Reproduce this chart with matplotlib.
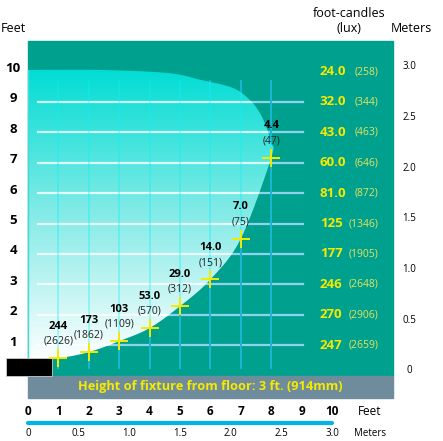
import numpy as np
import matplotlib.pyplot as plt
from matplotlib.patches import Rectangle, Polygon
from matplotlib.colors import LinearSegmentedColormap

plt.rcParams['font.family'] = ['Open Sans', 'DejaVu Sans']

# data (distances in feet)
cross_x = [1, 2, 3, 4, 5, 6, 7, 8]
cross_y = [0.57, 0.77, 1.13, 1.56, 2.28, 3.16, 4.5, 7.16]
cross_fc = ['244', '173', '103', '53.0', '29.0', '14.0', '7.0', '4.4']
cross_lux = ['2626', '1862', '1109', '570', '312', '151', '75', '47']

row_h = [10, 9, 8, 7, 6, 5, 4, 3, 2, 1]
row_fc = ['24.0', '32.0', '43.0', '60.0', '81.0', '125', '177', '246', '270', '247']
row_lux = ['258', '344', '463', '646', '872', '1346', '1905', '2648', '2906', '2659']

feet_ticks = list(range(11))
meter_ticks = ['0', '0.5', '1.0', '1.5', '2.0', '2.5', '3.0']

# outline of the lit zone above the last measured point
cone_top = [(7.99, 7.65), (7.87, 8.1), (7.63, 8.63), (7.3, 9.06), (6.74, 9.46),
            (5.7, 9.72), (4.6, 9.95), (2.4, 10.05), (0, 10.05)]

TEAL = '#00a08f'
YEL = '#f5ea00'


def smooth(p, n=12):
    # catmull-rom through the outline points
    p = np.asarray(p, float)
    p = np.vstack([p[0], p, p[-1]])
    out = []
    for i in range(1, len(p) - 2):
        p0, p1, p2, p3 = p[i - 1], p[i], p[i + 1], p[i + 2]
        for t in np.linspace(0, 1, n, endpoint=False):
            out.append(0.5 * (2 * p1 + (-p0 + p2) * t
                              + (2 * p0 - 5 * p1 + 4 * p2 - p3) * t ** 2
                              + (-p0 + 3 * p1 - 3 * p2 + p3) * t ** 3))
    out.append(p[-2])
    return np.array(out)


fig = plt.figure(figsize=(4.43, 4.41), dpi=100)
ax = fig.add_axes([0, 0, 1, 1])
ax.set_xlim(-28 / 30.4, 415 / 30.4)
ax.set_ylim(-65.5 / 30.4, 375.5 / 30.4)
ax.axis('off')

ax.add_patch(Rectangle((0, 0), 12, 11, color=TEAL, zorder=1))
ax.add_patch(Rectangle((0, -0.75), 12, 0.75, color='#6f8c9c', zorder=1))

# grid lines on the dark part (covered by the lit zone)
for h in range(1, 10):
    ax.plot([0.33, 9.05], [h, h], color='#8ed2ee', lw=1.6, zorder=1.5)
for x in cross_x:
    ax.plot([x, x], [0.25, 9.7], color='#1cb6d6', lw=1.4, zorder=1.5)

outline = smooth([(0, 0.5)] + list(zip(cross_x, cross_y)) + cone_top)
cone = Polygon(outline, closed=True, facecolor='none', edgecolor='none', zorder=2)
ax.add_patch(cone)
cmap = LinearSegmentedColormap.from_list('c', ['#ffffff', '#86ebe7', '#00ddd4'])
grad = np.linspace(0, 1, 256).reshape(-1, 1)
im = ax.imshow(grad, extent=(0, 8.2, 0.4, 10.1), origin='lower', cmap=cmap,
               aspect='auto', zorder=2)
im.set_clip_path(cone)
ax.plot([0, 0], [0.5, 10.05], color='#45d8d8', lw=1, zorder=3)

# grid lines inside the lit zone
for h in range(1, 10):
    ln, = ax.plot([0.33, 9.05], [h, h], color='white', lw=1.6, alpha=0.8, zorder=3)
    ln.set_clip_path(cone)
for x in cross_x:
    ln, = ax.plot([x, x], [0.25, 9.7], color='#10f0f8', lw=1.4, alpha=0.35, zorder=3)
    ln.set_clip_path(cone)

ax.plot(cross_x, cross_y, '+', color=YEL, ms=13, mew=1.4, zorder=5)

for x, y, fc, lux in zip(cross_x, cross_y, cross_fc, cross_lux):
    ax.text(x, y + 1.05, fc, ha='center', va='center', fontsize=8,
            fontweight='bold', color='black', zorder=6)
    ax.text(x, y + 0.55, '(' + lux + ')', ha='center', va='center', fontsize=7.5,
            color='#222222', zorder=6)

for h, fc, lux in zip(row_h, row_fc, row_lux):
    ax.text(9.6, h, fc, ha='left', va='center', fontsize=9.5,
            fontweight='bold', color=YEL, zorder=6)
    ax.text(11.52, h, '(' + lux + ')', ha='right', va='center', fontsize=7.5,
            color='#e6e35a', zorder=6)
    ax.text(-0.49, h + 0.1, str(h), ha='center', va='center', fontsize=9.5,
            fontweight='bold', color='black')

for i, m in enumerate(meter_ticks):
    ax.text(12.55, i * 0.5 / 0.3 + 0.15, m, ha='center', va='center',
            fontsize=7, color='black')

ax.text(-0.89, 11.43, 'Feet', ha='left', va='center', fontsize=9)
ax.text(10.56, 11.9, 'foot-candles', ha='center', va='center', fontsize=9)
ax.text(10.56, 11.4, '(lux)', ha='center', va='center', fontsize=9)
ax.text(12.6, 11.43, 'Meters', ha='center', va='center', fontsize=9)

ax.add_patch(Rectangle((-0.72, 0), 1.51, 0.57, facecolor='black',
                       edgecolor='#cccccc', lw=0.6, zorder=4))

ax.text(6.0, -0.36, 'Height of fixture from floor: 3 ft. (914mm)', ha='center',
        va='center', fontsize=9.2, fontweight='bold', color=YEL)

# bottom scale
for f in feet_ticks:
    ax.text(f, -1.2, str(f), ha='center', va='center', fontsize=8.5,
            fontweight='bold')
ax.plot([0, 10], [-1.56, -1.56], color='#00b4e8', lw=3, solid_capstyle='round')
for i, m in enumerate(meter_ticks):
    ax.text(i * 0.5 / 0.3, -1.9, m, ha='center', va='center', fontsize=7)
ax.text(11.25, -1.2, 'Feet', ha='center', va='center', fontsize=8.5)
ax.text(11.25, -1.9, 'Meters', ha='center', va='center', fontsize=7)

fig.savefig('out.png', dpi=100)
